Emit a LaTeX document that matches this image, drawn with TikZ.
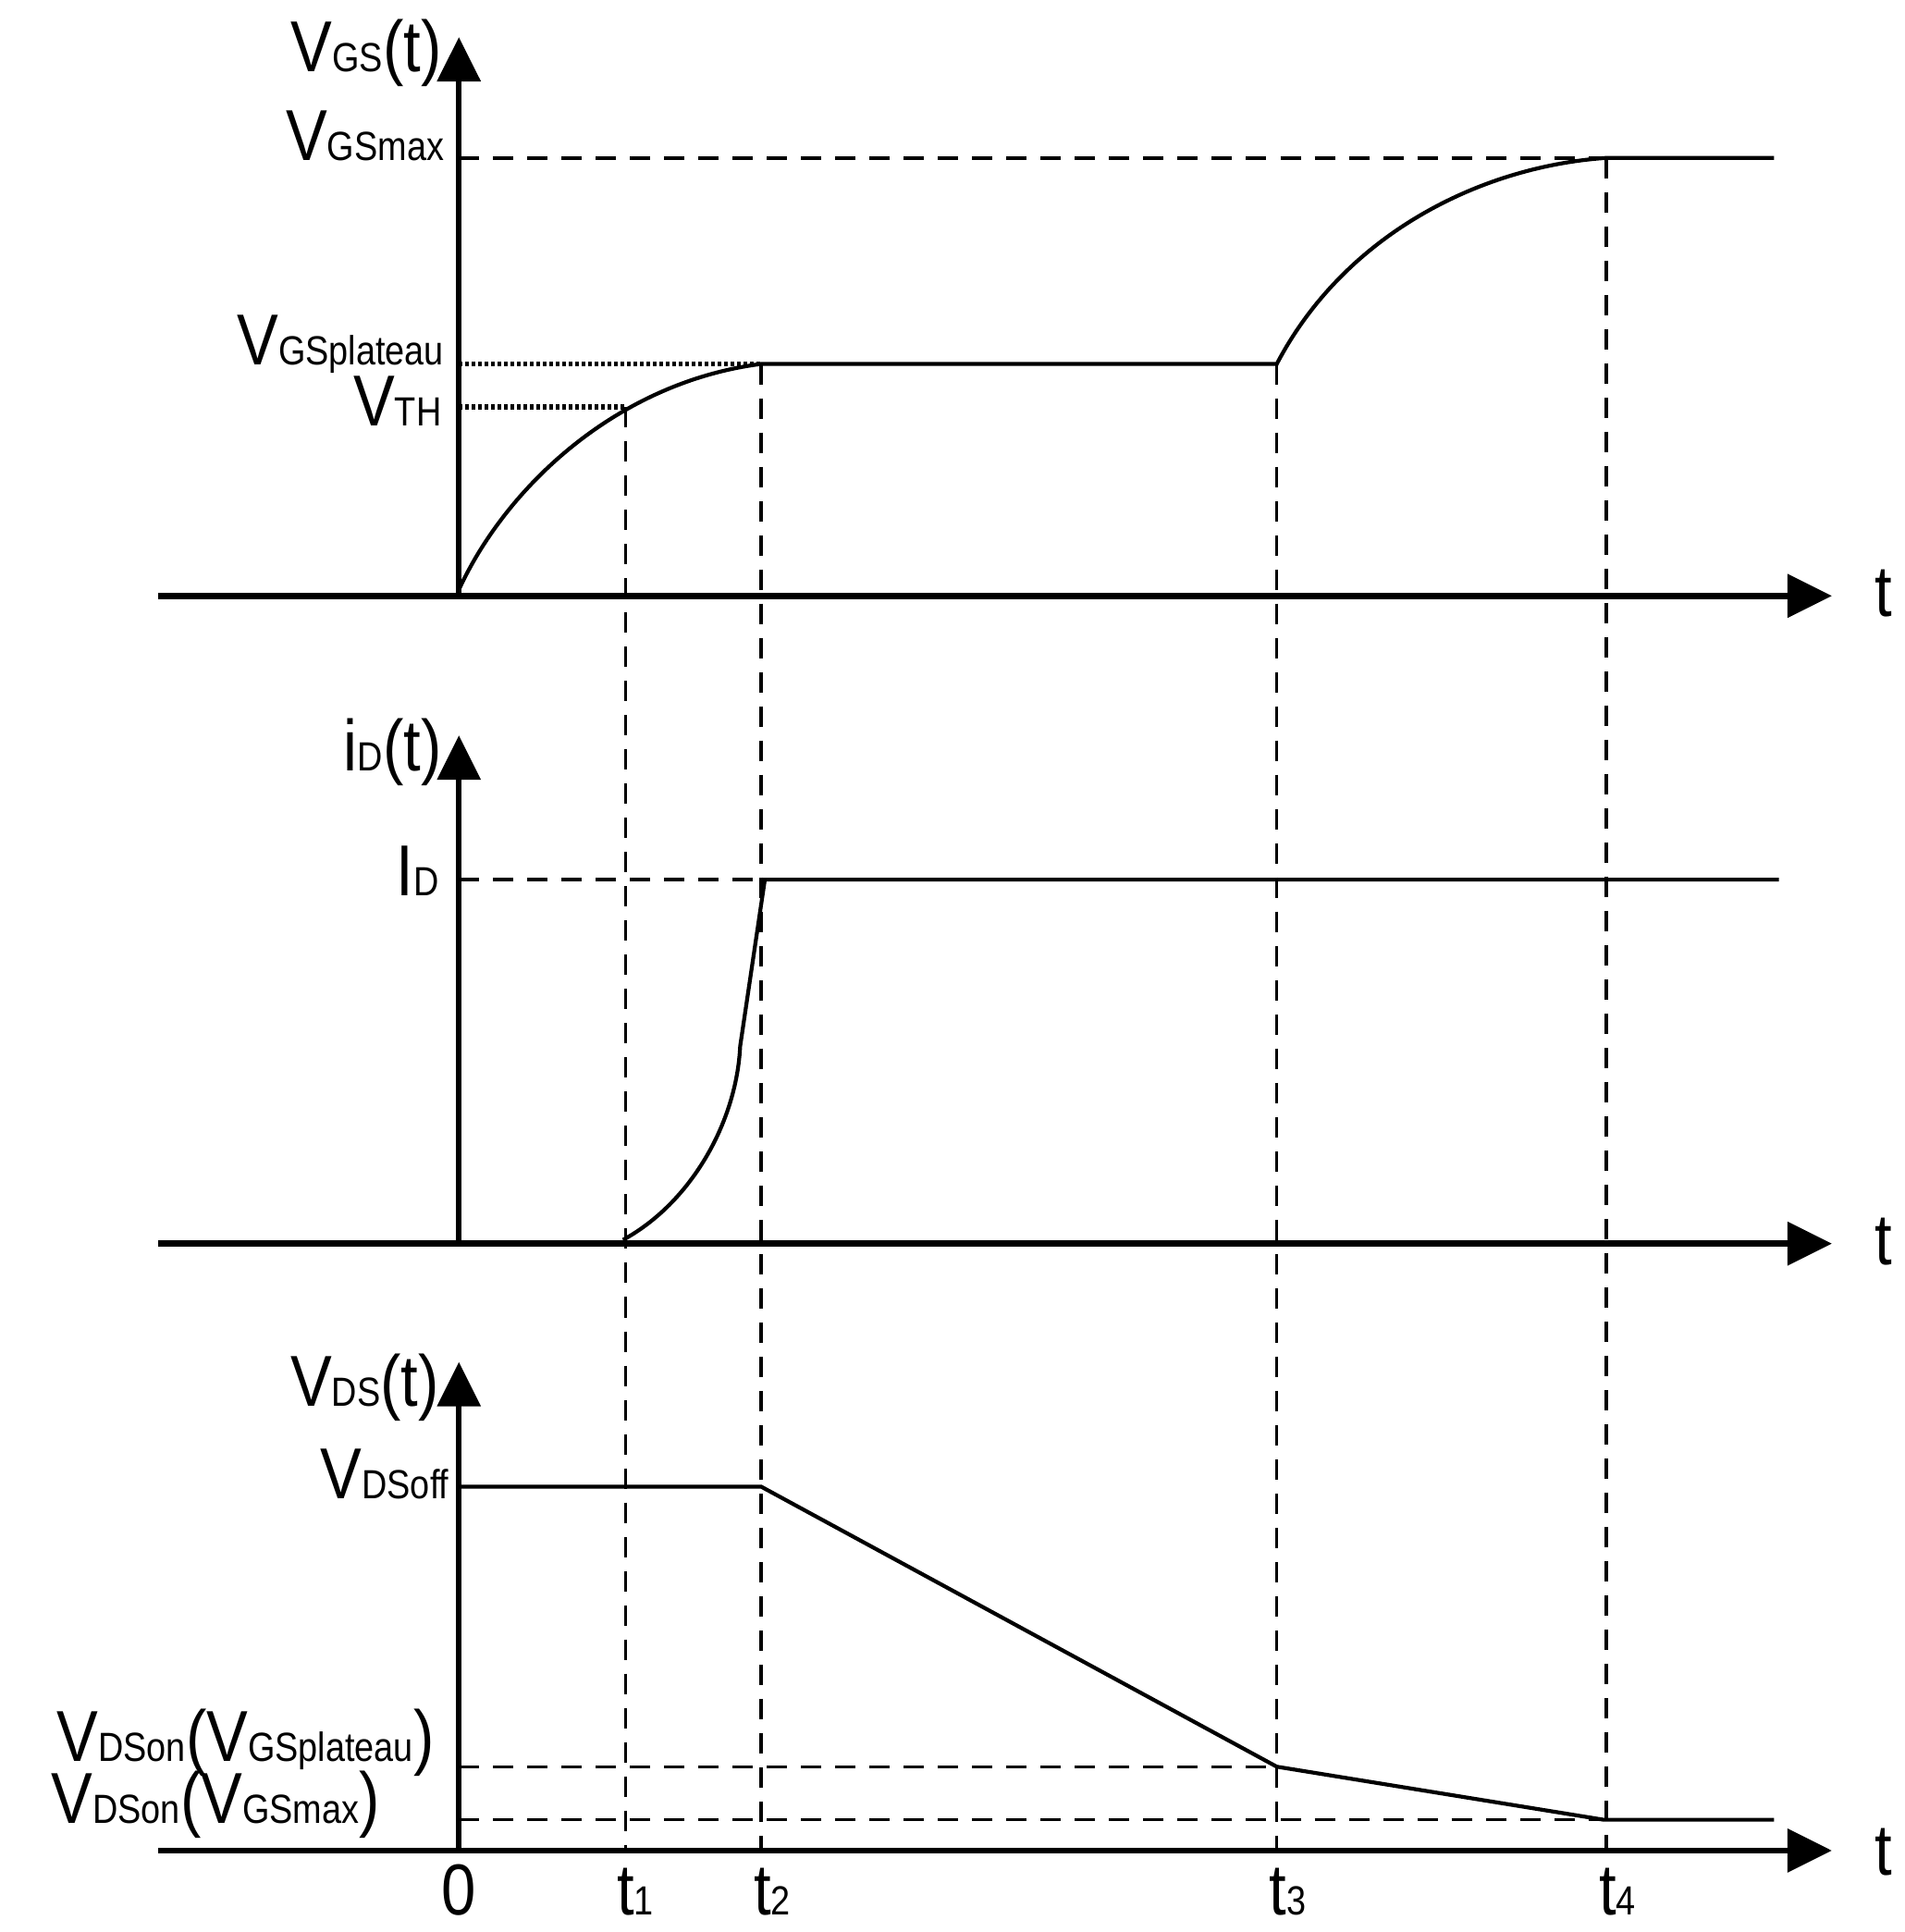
\documentclass[tikz,border=0pt]{standalone}
\usepackage{fontspec}
\setmainfont[FakeStretch=0.86]{Liberation Sans}
\usetikzlibrary{arrows.meta}
\newcommand{\bigfnt}{\fontsize{78}{78}\selectfont}
\newcommand{\sm}[1]{{\fontsize{44}{44}\selectfont #1}}
\begin{document}
\begin{tikzpicture}[x=1.3336pt,y=-1.3336pt,
  axis/.style={line width=6.5pt,-{Triangle[length=48pt,width=46pt]}},
  curve/.style={line width=4.2pt},
  dsh/.style={line width=3.5pt,dash pattern=on 22pt off 15pt},
  dot/.style={line width=5.5pt,dash pattern=on 4pt off 3pt},
  lbl/.style={anchor=base east,inner sep=0pt,font=\bigfnt}]
\useasboundingbox (0,0) rectangle (1544,1566);
% axes
\coordinate (o1) at (372,483); \coordinate (o2) at (372,1008); \coordinate (o3) at (372,1500);
\draw[axis] (128,483) -- (1485,483);
\draw[axis] (128,1008) -- (1485,1008);
\draw[axis] (128,1500) -- (1485,1500);
\draw[axis] (o1) -- (372,30);
\draw[axis] (o2) -- (372,596);
\draw[axis] (o3) -- (372,1104);
% verticals
\coordinate (a1) at (507,330); \coordinate (a2) at (617,295); \coordinate (a3) at (1035,295); \coordinate (a4) at (1302,128);
\draw[dsh] (a1) -- (507,1500);
\draw[dsh] (a2) -- (617,1500);
\draw[dsh] (a3) -- (1035,1500);
\draw[dsh] (a4) -- (1302,1500);
% VGS
\draw[dsh] (372,128) -- (a4);
\draw[dot] (372,295) -- (a2);
\draw[dot] (372,330) -- (a1);
\draw[curve] (372,478) .. controls (410,395) and (500,310) .. (617,295) -- (a3)
  .. controls (1090,190) and (1200,135) .. (a4) -- (1438,128);
% iD
\draw[dsh] (372,713) -- (617,713);
\draw[curve] (505,1005) .. controls (560,975) and (597,910) .. (600,848) -- (620,713) -- (1442,713);
% VDS
\draw[curve] (372,1205) -- (617,1205) -- (1035,1432) -- (1300,1475) -- (1438,1475);
\draw[dsh] (372,1432) -- (1035,1432);
\draw[dsh] (372,1475) -- (1300,1475);
% labels
\node[lbl] (l1) at (358,58) {V\sm{GS}(t)};
\node[lbl] (l2) at (360,130) {V\sm{GSmax}};
\node[lbl] (l3) at (360,296) {V\sm{GSplateau}};
\node[lbl] (l4) at (358,345) {V\sm{TH}};
\node[lbl] (l5) at (358,625) {i\sm{D}(t)};
\node[lbl] (l6) at (356,726) {I\sm{D}};
\node[lbl] (l7) at (356,1140) {V\sm{DS}(t)};
\node[lbl] (l8) at (364,1215) {V\sm{DSoff}};
\node[lbl] (l9) at (352,1428) {V\sm{DSon}(V\sm{GSplateau})};
\node[lbl] (l10) at (308,1478) {V\sm{DSon}(V\sm{GSmax})};
\node[lbl,anchor=base] (tt1) at (1527,500) {t};
\node[lbl,anchor=base] (tt2) at (1527,1025) {t};
\node[lbl,anchor=base] (tt3) at (1527,1520) {t};
\node[lbl,anchor=base] (b0) at (372,1552) {0};
\node[lbl,anchor=base] (b1) at (515,1552) {t\sm{1}};
\node[lbl,anchor=base] (b2) at (626,1552) {t\sm{2}};
\node[lbl,anchor=base] (b3) at (1044,1552) {t\sm{3}};
\node[lbl,anchor=base] (b4) at (1311,1552) {t\sm{4}};
\end{tikzpicture}
\end{document}
